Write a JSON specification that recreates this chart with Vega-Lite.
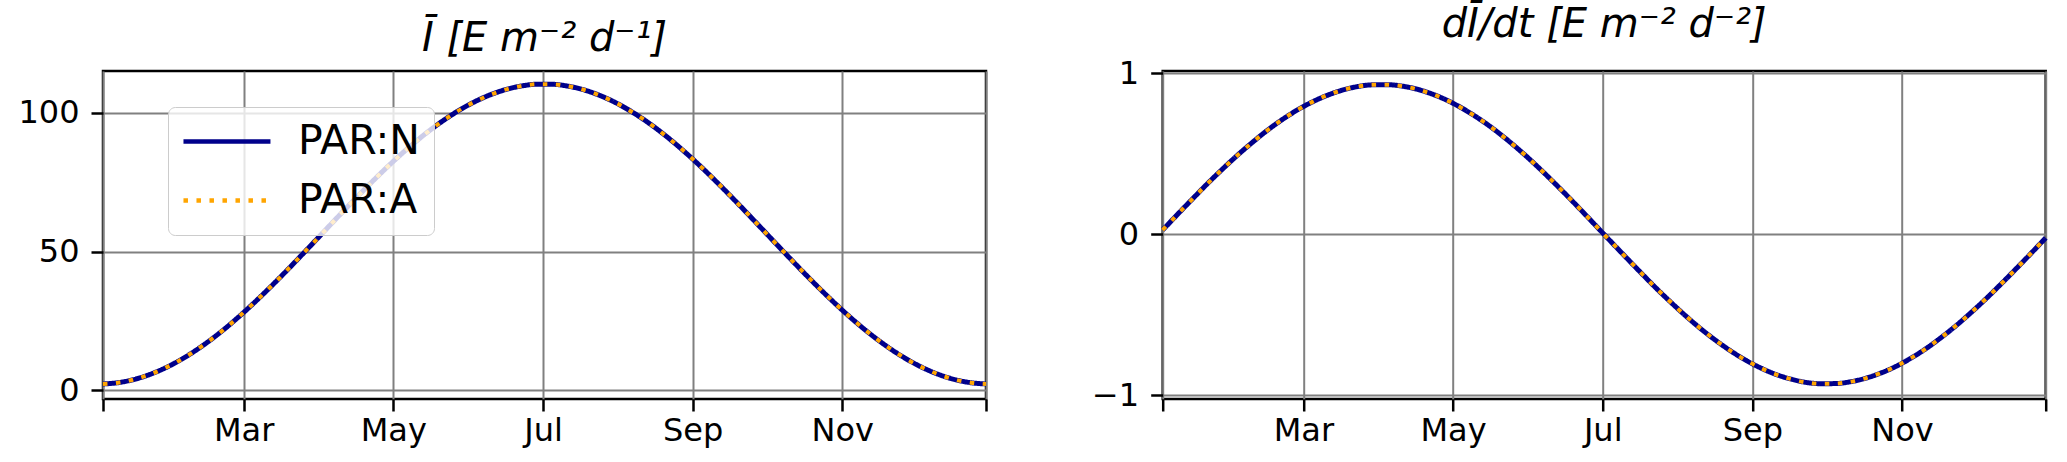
{
  "$schema": "https://vega.github.io/schema/vega-lite/v6.json",
  "background": "white",
  "autosize": {"type": "none"},
  "padding": {"left": 103, "top": 71, "right": 1964, "bottom": 391},
  "datasets": {
    "par": [
      {"day":3.6,"series":"PAR:N","I":2.32,"dI":0.026},{"day":9.6,"series":"PAR:N","I":2.78,"dI":0.124},{"day":15.6,"series":"PAR:N","I":3.84,"dI":0.220},{"day":21.6,"series":"PAR:N","I":5.48,"dI":0.315},{"day":27.6,"series":"PAR:N","I":7.69,"dI":0.405},{"day":33.6,"series":"PAR:N","I":10.44,"dI":0.491},{"day":39.6,"series":"PAR:N","I":13.70,"dI":0.571},{"day":45.6,"series":"PAR:N","I":17.43,"dI":0.646},{"day":51.6,"series":"PAR:N","I":21.60,"dI":0.713},{"day":57.6,"series":"PAR:N","I":26.16,"dI":0.772},
      {"day":63.6,"series":"PAR:N","I":31.05,"dI":0.822},{"day":69.6,"series":"PAR:N","I":36.22,"dI":0.863},{"day":75.6,"series":"PAR:N","I":41.61,"dI":0.895},{"day":81.6,"series":"PAR:N","I":47.17,"dI":0.917},{"day":87.6,"series":"PAR:N","I":52.83,"dI":0.928},{"day":93.6,"series":"PAR:N","I":58.53,"dI":0.929},{"day":99.6,"series":"PAR:N","I":64.21,"dI":0.920},{"day":105.6,"series":"PAR:N","I":69.79,"dI":0.901},{"day":111.6,"series":"PAR:N","I":75.23,"dI":0.871},{"day":117.6,"series":"PAR:N","I":80.46,"dI":0.832},
      {"day":123.6,"series":"PAR:N","I":85.41,"dI":0.783},{"day":129.6,"series":"PAR:N","I":90.04,"dI":0.726},{"day":135.6,"series":"PAR:N","I":94.30,"dI":0.661},{"day":141.6,"series":"PAR:N","I":98.13,"dI":0.588},{"day":147.6,"series":"PAR:N","I":101.50,"dI":0.509},{"day":153.6,"series":"PAR:N","I":104.36,"dI":0.424},{"day":159.6,"series":"PAR:N","I":106.69,"dI":0.334},{"day":165.6,"series":"PAR:N","I":108.45,"dI":0.241},{"day":171.6,"series":"PAR:N","I":109.64,"dI":0.145},{"day":177.6,"series":"PAR:N","I":110.23,"dI":0.047},
      {"day":183.6,"series":"PAR:N","I":110.22,"dI":-0.051},{"day":189.6,"series":"PAR:N","I":109.61,"dI":-0.148},{"day":195.6,"series":"PAR:N","I":108.41,"dI":-0.244},{"day":201.6,"series":"PAR:N","I":106.62,"dI":-0.338},{"day":207.6,"series":"PAR:N","I":104.28,"dI":-0.427},{"day":213.6,"series":"PAR:N","I":101.39,"dI":-0.512},{"day":219.6,"series":"PAR:N","I":98.01,"dI":-0.591},{"day":225.6,"series":"PAR:N","I":94.17,"dI":-0.663},{"day":231.6,"series":"PAR:N","I":89.90,"dI":-0.728},{"day":237.6,"series":"PAR:N","I":85.25,"dI":-0.785},
      {"day":243.6,"series":"PAR:N","I":80.29,"dI":-0.833},{"day":249.6,"series":"PAR:N","I":75.05,"dI":-0.872},{"day":255.6,"series":"PAR:N","I":69.61,"dI":-0.901},{"day":261.6,"series":"PAR:N","I":64.02,"dI":-0.921},{"day":267.6,"series":"PAR:N","I":58.34,"dI":-0.929},{"day":273.6,"series":"PAR:N","I":52.64,"dI":-0.928},{"day":279.6,"series":"PAR:N","I":46.99,"dI":-0.916},{"day":285.6,"series":"PAR:N","I":41.43,"dI":-0.894},{"day":291.6,"series":"PAR:N","I":36.04,"dI":-0.862},{"day":297.6,"series":"PAR:N","I":30.88,"dI":-0.821},
      {"day":303.6,"series":"PAR:N","I":26.00,"dI":-0.770},{"day":309.6,"series":"PAR:N","I":21.46,"dI":-0.711},{"day":315.6,"series":"PAR:N","I":17.30,"dI":-0.643},{"day":321.6,"series":"PAR:N","I":13.58,"dI":-0.569},{"day":327.6,"series":"PAR:N","I":10.34,"dI":-0.488},{"day":333.6,"series":"PAR:N","I":7.61,"dI":-0.402},{"day":339.6,"series":"PAR:N","I":5.42,"dI":-0.311},{"day":345.6,"series":"PAR:N","I":3.79,"dI":-0.217},{"day":351.6,"series":"PAR:N","I":2.76,"dI":-0.121},{"day":357.6,"series":"PAR:N","I":2.32,"dI":-0.023},
      {"day":3.6,"series":"PAR:A","I":2.32,"dI":0.026},{"day":9.6,"series":"PAR:A","I":2.78,"dI":0.124},{"day":15.6,"series":"PAR:A","I":3.84,"dI":0.220},{"day":21.6,"series":"PAR:A","I":5.48,"dI":0.315},{"day":27.6,"series":"PAR:A","I":7.69,"dI":0.405},{"day":33.6,"series":"PAR:A","I":10.44,"dI":0.491},{"day":39.6,"series":"PAR:A","I":13.70,"dI":0.571},{"day":45.6,"series":"PAR:A","I":17.43,"dI":0.646},{"day":51.6,"series":"PAR:A","I":21.60,"dI":0.713},{"day":57.6,"series":"PAR:A","I":26.16,"dI":0.772},
      {"day":63.6,"series":"PAR:A","I":31.05,"dI":0.822},{"day":69.6,"series":"PAR:A","I":36.22,"dI":0.863},{"day":75.6,"series":"PAR:A","I":41.61,"dI":0.895},{"day":81.6,"series":"PAR:A","I":47.17,"dI":0.917},{"day":87.6,"series":"PAR:A","I":52.83,"dI":0.928},{"day":93.6,"series":"PAR:A","I":58.53,"dI":0.929},{"day":99.6,"series":"PAR:A","I":64.21,"dI":0.920},{"day":105.6,"series":"PAR:A","I":69.79,"dI":0.901},{"day":111.6,"series":"PAR:A","I":75.23,"dI":0.871},{"day":117.6,"series":"PAR:A","I":80.46,"dI":0.832},
      {"day":123.6,"series":"PAR:A","I":85.41,"dI":0.783},{"day":129.6,"series":"PAR:A","I":90.04,"dI":0.726},{"day":135.6,"series":"PAR:A","I":94.30,"dI":0.661},{"day":141.6,"series":"PAR:A","I":98.13,"dI":0.588},{"day":147.6,"series":"PAR:A","I":101.50,"dI":0.509},{"day":153.6,"series":"PAR:A","I":104.36,"dI":0.424},{"day":159.6,"series":"PAR:A","I":106.69,"dI":0.334},{"day":165.6,"series":"PAR:A","I":108.45,"dI":0.241},{"day":171.6,"series":"PAR:A","I":109.64,"dI":0.145},{"day":177.6,"series":"PAR:A","I":110.23,"dI":0.047},
      {"day":183.6,"series":"PAR:A","I":110.22,"dI":-0.051},{"day":189.6,"series":"PAR:A","I":109.61,"dI":-0.148},{"day":195.6,"series":"PAR:A","I":108.41,"dI":-0.244},{"day":201.6,"series":"PAR:A","I":106.62,"dI":-0.338},{"day":207.6,"series":"PAR:A","I":104.28,"dI":-0.427},{"day":213.6,"series":"PAR:A","I":101.39,"dI":-0.512},{"day":219.6,"series":"PAR:A","I":98.01,"dI":-0.591},{"day":225.6,"series":"PAR:A","I":94.17,"dI":-0.663},{"day":231.6,"series":"PAR:A","I":89.90,"dI":-0.728},{"day":237.6,"series":"PAR:A","I":85.25,"dI":-0.785},
      {"day":243.6,"series":"PAR:A","I":80.29,"dI":-0.833},{"day":249.6,"series":"PAR:A","I":75.05,"dI":-0.872},{"day":255.6,"series":"PAR:A","I":69.61,"dI":-0.901},{"day":261.6,"series":"PAR:A","I":64.02,"dI":-0.921},{"day":267.6,"series":"PAR:A","I":58.34,"dI":-0.929},{"day":273.6,"series":"PAR:A","I":52.64,"dI":-0.928},{"day":279.6,"series":"PAR:A","I":46.99,"dI":-0.916},{"day":285.6,"series":"PAR:A","I":41.43,"dI":-0.894},{"day":291.6,"series":"PAR:A","I":36.04,"dI":-0.862},{"day":297.6,"series":"PAR:A","I":30.88,"dI":-0.821},
      {"day":303.6,"series":"PAR:A","I":26.00,"dI":-0.770},{"day":309.6,"series":"PAR:A","I":21.46,"dI":-0.711},{"day":315.6,"series":"PAR:A","I":17.30,"dI":-0.643},{"day":321.6,"series":"PAR:A","I":13.58,"dI":-0.569},{"day":327.6,"series":"PAR:A","I":10.34,"dI":-0.488},{"day":333.6,"series":"PAR:A","I":7.61,"dI":-0.402},{"day":339.6,"series":"PAR:A","I":5.42,"dI":-0.311},{"day":345.6,"series":"PAR:A","I":3.79,"dI":-0.217},{"day":351.6,"series":"PAR:A","I":2.76,"dI":-0.121},{"day":357.6,"series":"PAR:A","I":2.32,"dI":-0.023}
    ]
  },
  "config": {
    "font": "DejaVu Sans",
    "view": {"stroke": "black", "strokeWidth": 2.5},
    "axis": {
      "domain": false, "grid": true, "gridColor": "#808080", "gridWidth": 2,
      "tickColor": "black", "tickWidth": 2.5, "tickSize": 12,
      "labelFont": "DejaVu Sans", "labelFontSize": 32, "labelColor": "black",
      "labelFlush": false, "labelOverlap": false
    },
    "axisX": {"labelPadding": 4},
    "axisY": {"labelPadding": 12},
    "title": {
      "font": "DejaVu Sans", "fontSize": 40, "fontStyle": "italic", "fontWeight": "normal",
      "color": "black", "baseline": "alphabetic", "offset": 12, "frame": "group"
    },
    "legend": {
      "orient": "none", "legendX": 65, "legendY": 36,
      "symbolType": "M-1.75,0L6.25,0", "symbolSize": 473, "symbolStrokeWidth": 4.5,
      "labelFont": "DejaVu Sans", "labelFontSize": 41, "labelColor": "black",
      "labelOffset": 75, "rowPadding": 17, "padding": 14,
      "fillColor": "rgba(255,255,255,0.8)", "strokeColor": "#cccccc", "cornerRadius": 7
    }
  },
  "bounds": "flush",
  "spacing": 176.7,
  "hconcat": [
    {
      "width": 883, "height": 328,
      "title": "Ī [E m⁻² d⁻¹]",
      "data": {"name": "par"},
      "encoding": {
        "x": {"field": "day", "type": "quantitative", "title": null,
          "scale": {"domain": [3.6, 357.6], "nice": false, "zero": false},
          "axis": {"values": [3.6, 60, 120, 180, 240, 300, 357.6],
            "labelExpr": "datum.value == 60 ? 'Mar' : datum.value == 120 ? 'May' : datum.value == 180 ? 'Jul' : datum.value == 240 ? 'Sep' : datum.value == 300 ? 'Nov' : ''"}},
        "y": {"field": "I", "type": "quantitative", "title": null,
          "scale": {"domain": [-3.1, 115.0], "nice": false, "zero": false},
          "axis": {"values": [0, 50, 100], "labelExpr": "format(datum.value, 'd')"}},
        "color": {"field": "series", "type": "nominal",
          "scale": {"domain": ["PAR:N", "PAR:A"], "range": ["#00008b", "#ffa500"]},
          "legend": {"title": null}},
        "strokeDash": {"field": "series", "type": "nominal",
          "scale": {"domain": ["PAR:N", "PAR:A"], "range": [[1, 0], [4.5, 8.5]]},
          "legend": {"title": null}}
      },
      "layer": [
        {"transform": [{"filter": "datum.series === 'PAR:N'"}], "mark": {"type": "line", "strokeWidth": 5, "interpolate": "monotone"}},
        {"transform": [{"filter": "datum.series === 'PAR:A'"}], "mark": {"type": "line", "strokeWidth": 4, "interpolate": "monotone"}}
      ]
    },
    {
      "width": 883, "height": 328,
      "title": "dĪ/dt [E m⁻² d⁻²]",
      "data": {"name": "par"},
      "encoding": {
        "x": {"field": "day", "type": "quantitative", "title": null,
          "scale": {"domain": [3.6, 357.6], "nice": false, "zero": false},
          "axis": {"values": [3.6, 60, 120, 180, 240, 300, 357.6],
            "labelExpr": "datum.value == 60 ? 'Mar' : datum.value == 120 ? 'May' : datum.value == 180 ? 'Jul' : datum.value == 240 ? 'Sep' : datum.value == 300 ? 'Nov' : ''"}},
        "y": {"field": "dI", "type": "quantitative", "title": null,
          "scale": {"domain": [-1.024, 1.014], "nice": false, "zero": false},
          "axis": {"values": [-1, 0, 1], "labelExpr": "format(datum.value, 'd')"}},
        "color": {"field": "series", "type": "nominal",
          "scale": {"domain": ["PAR:N", "PAR:A"], "range": ["#00008b", "#ffa500"]},
          "legend": null},
        "strokeDash": {"field": "series", "type": "nominal",
          "scale": {"domain": ["PAR:N", "PAR:A"], "range": [[1, 0], [4.5, 8.5]]},
          "legend": null}
      },
      "layer": [
        {"transform": [{"filter": "datum.series === 'PAR:N'"}], "mark": {"type": "line", "strokeWidth": 5, "interpolate": "monotone"}},
        {"transform": [{"filter": "datum.series === 'PAR:A'"}], "mark": {"type": "line", "strokeWidth": 4, "interpolate": "monotone"}}
      ]
    }
  ]
}
